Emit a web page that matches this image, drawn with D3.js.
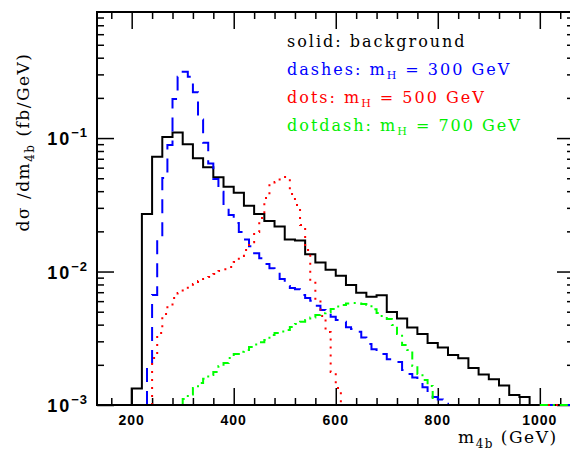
<!DOCTYPE html>
<html>
<head>
<meta charset="utf-8">
<script src="https://cdn.jsdelivr.net/npm/d3@7"></script>
<style>
body { margin: 0; background: #fff; }
svg { display: block; }
</style>
</head>
<body>
<script>
// background, 20 GeV bins (lower edges)
const bgBins = [200, 220, 240, 260, 280, 300, 320, 340, 360, 380, 400, 420, 440, 460, 480, 500, 520, 540, 560, 580,
                600, 620, 640, 660, 680, 700, 720, 740, 760, 780, 800, 820, 840, 860, 880, 900, 920, 940, 960];
const bgValues = [0.00133, 0.0270, 0.0724, 0.102, 0.110, 0.0898, 0.0705, 0.0604, 0.0508, 0.0431,
                  0.0389, 0.0311, 0.0270, 0.0239, 0.0217, 0.0174, 0.0171, 0.0135, 0.0117, 0.0103,
                  0.00931, 0.00793, 0.00693, 0.00647, 0.00664, 0.00498, 0.00445, 0.00381, 0.00340, 0.00291,
                  0.00270, 0.00237, 0.00224, 0.00189, 0.00169, 0.00156, 0.00140, 0.00119, 0.00115];
const bgWidth = 20;

// signals, 10 GeV bins
const h300Bins = [230, 240, 250, 260, 270, 280, 290, 300, 310, 320, 330, 340, 350, 360, 370, 380, 390, 400, 410, 420,
                  430, 440, 450, 460, 470, 480, 490, 500, 510, 520, 530, 540, 550, 560, 570, 580, 590, 600, 610, 620,
                  630, 640, 650, 660, 670, 680, 690, 700, 710, 720, 730, 740, 750, 760, 770, 780, 790, 800, 810];
const h300Values = [0.00200, 0.00667, 0.0172, 0.0501, 0.0888, 0.196, 0.288, 0.314, 0.288, 0.220,
                    0.138, 0.0923, 0.0645, 0.0493, 0.0396, 0.0321, 0.0265, 0.0231, 0.0198, 0.0174,
                    0.0155, 0.0137, 0.0126, 0.0114, 0.0106, 0.00998, 0.00880, 0.00778, 0.00752, 0.00736,
                    0.00667, 0.00633, 0.00604, 0.00555, 0.00516, 0.00489, 0.00458, 0.00434, 0.00421, 0.00382,
                    0.00371, 0.00354, 0.00321, 0.00286, 0.00262, 0.00254, 0.00241, 0.00220, 0.00214, 0.00210,
                    0.00183, 0.00171, 0.00161, 0.00152, 0.00136, 0.00121, 0.00115, 0.00110, 0.00102];

const h500Bins = [240, 250, 260, 270, 280, 290, 300, 310, 320, 330, 340, 350, 360, 370, 380, 390, 400, 410, 420, 430,
                  440, 450, 460, 470, 480, 490, 500, 510, 520, 530, 540, 550, 560, 570, 580, 590, 600];
const h500Values = [0.00225, 0.00346, 0.00481, 0.00552, 0.00633, 0.00690, 0.00740, 0.00778, 0.00805, 0.00849,
                    0.00880, 0.00910, 0.00957, 0.0101, 0.0104, 0.0108, 0.0118, 0.0131, 0.0145, 0.0166,
                    0.0198, 0.0252, 0.0356, 0.0452, 0.0468, 0.0511, 0.0511, 0.0381, 0.0315, 0.0223,
                    0.0145, 0.00849, 0.00613, 0.00465, 0.00352, 0.00177, 0.00134];

const h700Bins = [300, 310, 320, 330, 340, 350, 360, 370, 380, 390, 400, 410, 420, 430, 440, 450, 460, 470, 480, 490,
                  500, 510, 520, 530, 540, 550, 560, 570, 580, 590, 600, 610, 620, 630, 640, 650, 660, 670, 680, 690,
                  700, 710, 720, 730, 740, 750, 760, 770, 780];
const h700Values = [0.00111, 0.00120, 0.00134, 0.00146, 0.00157, 0.00168, 0.00177, 0.00196, 0.00206, 0.00225,
                    0.00241, 0.00251, 0.00258, 0.00272, 0.00284, 0.00295, 0.00307, 0.00334, 0.00346, 0.00355,
                    0.00365, 0.00384, 0.00404, 0.00421, 0.00433, 0.00452, 0.00472, 0.00486, 0.00495, 0.00524,
                    0.00547, 0.00561, 0.00576, 0.00581, 0.00576, 0.00571, 0.00561, 0.00521, 0.00489, 0.00464,
                    0.00441, 0.00397, 0.00340, 0.00281, 0.00258, 0.00196, 0.00171, 0.00154, 0.00139];
const sigWidth = 10;

// all curves sit on the floor from here on
const tailStart = 1000;

const xTicks = [200, 400, 600, 800, 1000];
const yTicks = [0.001, 0.01, 0.1];
const yTickExponents = ["\u22123", "\u22122", "\u22121"];

function init() {
    var w = 570;
    var h = 450;
    var left = 97, right = 574, top = 12, bottom = 405;

    var xScale = d3.scaleLinear()
                    .domain([132, 1067])
                    .range([left, right]);
    var yScale = d3.scaleLog()
                    .domain([0.001, 0.88])
                    .range([bottom, top])
                    .clamp(true);
    var floor = yScale.domain()[0];

    var svg = d3.select("body")
                .append("svg")
                .attr("width", w)
                .attr("height", h);

    // minor tick values
    var xMinor = d3.range(160, 1067, 40).filter(d => xTicks.indexOf(d) < 0);
    var yMinor = [];
    [0.001, 0.01, 0.1].forEach(function(dec) {
        for (var k = 2; k <= 9; k++) if (dec * k < 0.88) yMinor.push(dec * k);
    });

    function ticks(axis, values, size, transform) {
        var g = svg.append("g")
            .attr("transform", transform)
            .call(axis.tickValues(values).tickSize(-size).tickSizeOuter(0).tickFormat(""));
        g.select(".domain").remove();
        g.selectAll("line").attr("stroke", "#000").attr("stroke-width", 1.5);
        return g;
    }
    ticks(d3.axisBottom(xScale), xTicks, 17, "translate(0," + bottom + ")");
    ticks(d3.axisBottom(xScale), xMinor, 7, "translate(0," + bottom + ")");
    ticks(d3.axisTop(xScale), xTicks, 17, "translate(0," + top + ")");
    ticks(d3.axisTop(xScale), xMinor, 7, "translate(0," + top + ")");
    ticks(d3.axisLeft(yScale), yTicks, 17, "translate(" + left + ",0)");
    ticks(d3.axisLeft(yScale), yMinor, 7, "translate(" + left + ",0)");
    ticks(d3.axisRight(yScale), yTicks, 17, "translate(" + right + ",0)");
    ticks(d3.axisRight(yScale), yMinor, 7, "translate(" + right + ",0)");

    // x tick labels
    svg.append("g").selectAll("text")
        .data(xTicks)
        .enter()
        .append("text")
        .attr("x", d => xScale(d))
        .attr("y", bottom + 20)
        .attr("text-anchor", "middle")
        .style("font-family", "Liberation Sans, Arial, sans-serif")
        .style("font-weight", "bold")
        .style("font-size", "14px")
        .style("letter-spacing", "1px")
        .text(d => d);

    // y tick labels 10^-n
    var yl = svg.append("g").selectAll("text")
        .data(yTicks)
        .enter()
        .append("text")
        .attr("x", 88)
        .attr("y", d => yScale(d) + 7)
        .attr("text-anchor", "end")
        .style("font-family", "Liberation Sans, Arial, sans-serif")
        .style("font-weight", "bold")
        .style("font-size", "18px")
        .style("letter-spacing", "2px");
    yl.append("tspan").text("10");
    yl.append("tspan")
        .attr("dy", -8)
        .style("font-size", "13px")
        .style("letter-spacing", "1px")
        .text((d, i) => yTickExponents[i]);

    // histograms
    var line = d3.line()
                .x(d => xScale(d[0]))
                .y(d => yScale(d[1]));

    function stepPoints(bins, values, width) {
        var pts = [[bins[0], floor]];
        bins.forEach(function(b, i) {
            pts.push([b, values[i]]);
            pts.push([b + width, values[i]]);
        });
        pts.push([bins[bins.length - 1] + width, floor]);
        return pts;
    }

    var series = [
        {bins: bgBins, values: bgValues, width: bgWidth, color: "#000000", dash: null},
        {bins: h300Bins, values: h300Values, width: sigWidth, color: "#0000ff", dash: "14,9"},
        {bins: h500Bins, values: h500Values, width: sigWidth, color: "#ff0000", dash: "2,6"},
        {bins: h700Bins, values: h700Values, width: sigWidth, color: "#00ff00", dash: "8,5,2,5"}
    ];

    series.forEach(function(s) {
        svg.append("path")
            .attr("d", line(stepPoints(s.bins, s.values, s.width)))
            .attr("fill", "none")
            .attr("stroke", s.color)
            .attr("stroke-width", 2)
            .attr("stroke-dasharray", s.dash);
    });

    // frame
    svg.append("rect")
        .attr("x", left)
        .attr("y", top)
        .attr("width", right - left)
        .attr("height", bottom - top)
        .attr("fill", "none")
        .attr("stroke", "#000")
        .attr("stroke-width", 2);
    // curves stay visible on the bottom edge past 1000 GeV
    series.forEach(function(s) {
        svg.append("path")
            .attr("d", line([[tailStart, floor], [xScale.domain()[1], floor]]))
            .attr("fill", "none")
            .attr("stroke", s.color)
            .attr("stroke-width", 2)
            .attr("stroke-dasharray", s.dash);
    });

    var serif = "DejaVu Serif, serif";

    // legend
    var legend = [
        {label: "solid: background", mass: null, color: "#000000"},
        {label: "dashes: m", mass: "300", color: "#0000ff"},
        {label: "dots: m", mass: "500", color: "#ff0000"},
        {label: "dotdash: m", mass: "700", color: "#00ee00"}
    ];
    var lt = svg.append("g").selectAll("text")
        .data(legend)
        .enter()
        .append("text")
        .attr("x", 287)
        .attr("y", (d, i) => 47 + i * 28)
        .attr("fill", d => d.color)
        .style("font-family", serif)
        .style("font-size", "16px")
        .style("letter-spacing", "2px");
    lt.append("tspan").text(d => d.label);
    lt.filter(d => d.mass).append("tspan")
        .attr("dy", 4)
        .style("font-size", "11px")
        .text("H");
    lt.filter(d => d.mass).append("tspan")
        .attr("dy", -4)
        .text(d => " = " + d.mass + " GeV");

    // axis titles
    var xt = svg.append("text")
        .attr("x", 458)
        .attr("y", 443)
        .style("font-family", serif)
        .style("font-size", "17px")
        .style("letter-spacing", "1.5px");
    xt.append("tspan").text("m");
    xt.append("tspan").attr("dy", 5).style("font-size", "12px").text("4b");
    xt.append("tspan").attr("dy", -5).text(" (GeV)");

    var yt = svg.append("text")
        .attr("transform", "translate(29,142) rotate(-90)")
        .attr("text-anchor", "middle")
        .style("font-family", serif)
        .style("font-size", "17px")
        .style("letter-spacing", "1.5px");
    yt.append("tspan").text("d\u03c3 /dm");
    yt.append("tspan").attr("dy", 5).style("font-size", "12px").text("4b");
    yt.append("tspan").attr("dy", -5).text(" (fb/GeV)");
}
window.onload = init;
</script>
</body>
</html>
